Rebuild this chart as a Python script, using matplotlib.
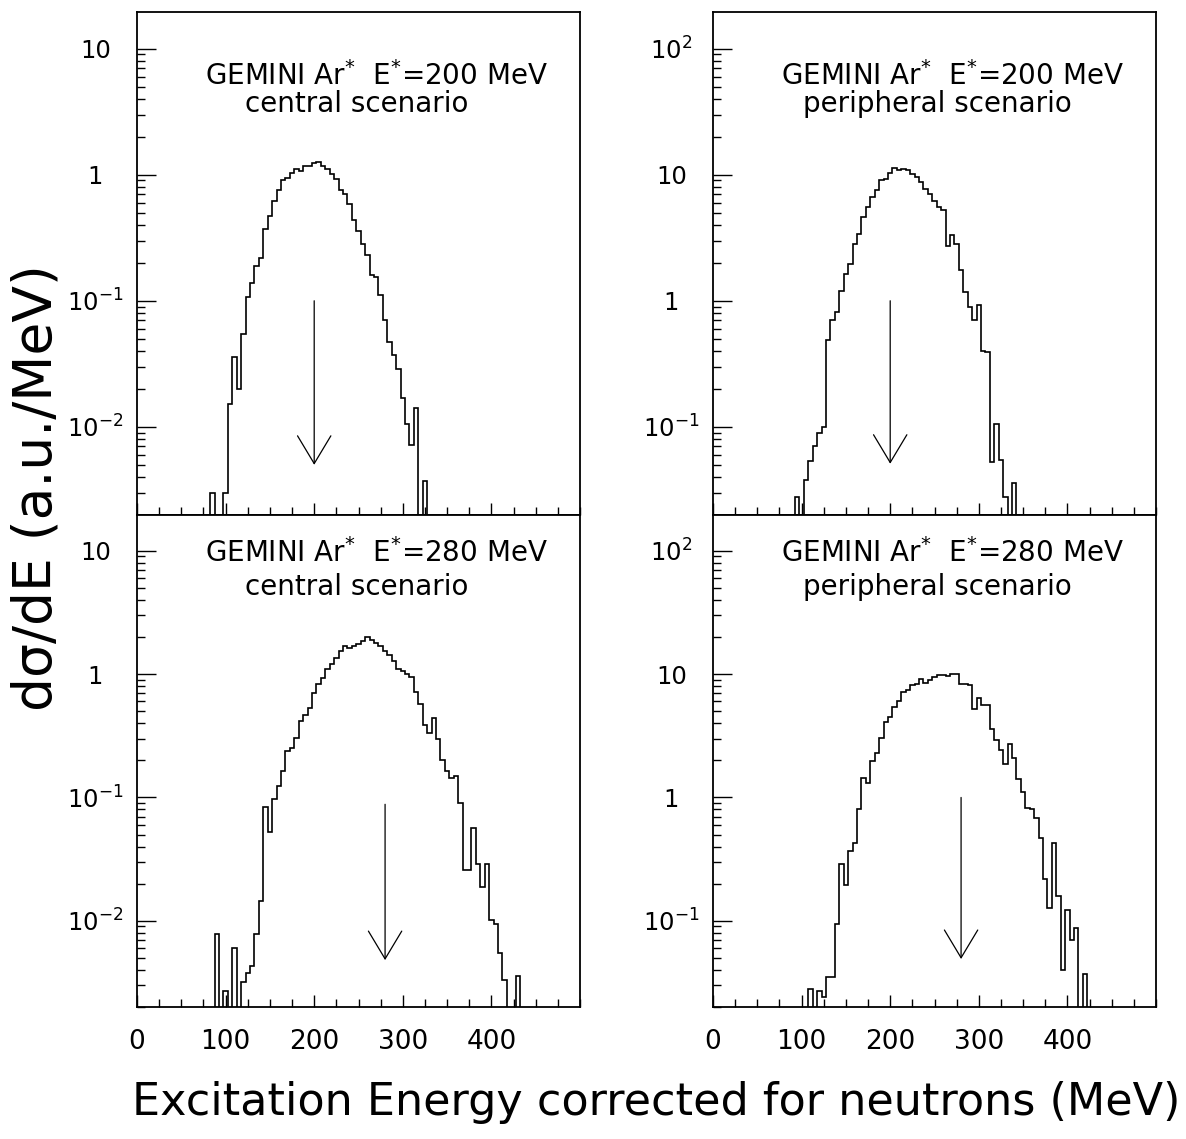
import numpy as np
import matplotlib
matplotlib.use('Agg')
from matplotlib import pyplot as plt
from matplotlib.ticker import MultipleLocator, LogLocator, NullFormatter

# 5 MeV bins, the first value belongs to the bin centred at *_start
tl_start = 85
tl_vals = [0.0030, 0, 0, 0.0030, 0.0153, 0.036, 0.020, 0.055, 0.108, 0.138,
           0.19, 0.22, 0.37, 0.47, 0.62, 0.75, 0.90, 0.94, 1.04, 1.11,
           1.07, 1.18, 1.18, 1.24, 1.25, 1.18, 1.10, 1.02, 0.92, 0.76,
           0.70, 0.58, 0.44, 0.36, 0.28, 0.23, 0.16, 0.155, 0.112, 0.070,
           0.047, 0.037, 0.029, 0.0168, 0.0106, 0.0072, 0.0142, 0, 0.0037]

tr_start = 95
tr_vals = [0.028, 0, 0.038, 0.054, 0.070, 0.089, 0.10, 0.49, 0.71, 0.81,
           1.2, 1.64, 1.97, 2.8, 3.4, 4.6, 5.5, 6.6, 7.5, 9.0,
           9.2, 10.4, 11.3, 10.9, 11.1, 10.9, 10.2, 9.5, 8.8, 7.7,
           7.0, 6.2, 5.5, 5.2, 2.74, 3.3, 2.8, 1.74, 1.17, 0.89,
           0.70, 0.93, 0.40, 0.39, 0.053, 0.106, 0.055, 0.028, 0, 0.036]

bl_start = 90
bl_vals = [0.0078, 0, 0.0027, 0, 0.0060, 0, 0.0032, 0.0038, 0.0043, 0.0078,
           0.0146, 0.084, 0.052, 0.097, 0.123, 0.163, 0.24, 0.25, 0.305, 0.42,
           0.47, 0.53, 0.70, 0.83, 0.93, 1.11, 1.20, 1.34, 1.54, 1.69,
           1.64, 1.69, 1.77, 1.86, 2.0, 1.89, 1.80, 1.69, 1.54, 1.43,
           1.27, 1.11, 1.05, 1.0, 0.95, 0.72, 0.57, 0.39, 0.33, 0.44,
           0.30, 0.20, 0.163, 0.145, 0.15, 0.09, 0.026, 0.026, 0.057, 0.029,
           0.0187, 0.029, 0.0101, 0.0095, 0.0055, 0.0033, 0, 0, 0.0036]

br_start = 110
br_vals = [0.028, 0, 0.027, 0.024, 0.035, 0.035, 0.095, 0.29, 0.195, 0.365,
           0.43, 0.80, 1.45, 1.32, 1.98, 2.3, 3.06, 4.06, 4.47, 5.4,
           6.1, 7.1, 7.4, 8.1, 8.3, 9.2, 8.5, 8.9, 9.5, 9.9,
           9.9, 9.6, 10.1, 10.1, 8.3, 8.3, 8.1, 5.2, 6.4, 5.6,
           5.6, 3.6, 2.9, 2.43, 1.86, 2.7, 2.1, 1.4, 1.10, 0.82,
           0.80, 0.68, 0.47, 0.22, 0.126, 0.43, 0.159, 0.040, 0.122, 0.07,
           0.087, 0, 0.037]

e_star = [200, 200, 280, 280]
arrow_top = [0.1, 1.0, 0.088, 1.0]
arrow_tip = [0.005, 0.051, 0.0048, 0.049]
scenario = ['central scenario', 'peripheral scenario', 'central scenario', 'peripheral scenario']

ylim_c = (2e-3, 19.5)
ylim_p = (2e-2, 195)
yt_c = [1e-2, 1e-1, 1, 10]
yl_c = [r'$10^{-2}$', r'$10^{-1}$', '1', '10']
yt_p = [1e-1, 1, 10, 100]
yl_p = [r'$10^{-1}$', '1', '10', r'$10^{2}$']
x_ticks = [0, 100, 200, 300, 400]


def draw_panel(ax, start, vals, ylim, yt, yl, i, show_x):
    edges = start - 2.5 + 5 * np.arange(len(vals) + 1)
    ax.stairs(vals, edges, baseline=0, color='k', lw=1.2)
    ax.set_yscale('log')
    ax.set_xlim(0, 500)
    ax.set_ylim(*ylim)
    ax.set_yticks(yt, yl)
    ax.yaxis.set_minor_locator(LogLocator(base=10, subs=np.arange(2, 10), numticks=20))
    ax.yaxis.set_minor_formatter(NullFormatter())
    ax.set_xticks(x_ticks)
    ax.xaxis.set_minor_locator(MultipleLocator(25))
    ax.tick_params(which='both', direction='in', top=False, right=False, width=1.0)
    ax.tick_params(axis='y', which='major', length=14, pad=30, labelsize=17.5)
    ax.tick_params(axis='y', which='minor', length=6)
    ax.tick_params(axis='x', which='major', length=8.5, pad=16, labelsize=19)
    ax.tick_params(axis='x', which='minor', length=5.5)
    for lab in ax.get_yticklabels():
        lab.set_horizontalalignment('center')
    if not show_x:
        ax.tick_params(axis='x', labelbottom=False)
    for s in ax.spines.values():
        s.set_linewidth(1.3)

    # arrow marking the nominal excitation energy
    ax.annotate('', xy=(e_star[i], arrow_tip[i]), xytext=(e_star[i], arrow_top[i]),
                arrowprops=dict(arrowstyle='->,head_length=1.0,head_width=0.6',
                                color='k', lw=0.9, shrinkA=0, shrinkB=0,
                                mutation_scale=20))

    y1, y2 = (0.855, 0.802) if not show_x else (0.904, 0.838)
    x1 = 0.540
    x2 = 0.497 if i % 2 == 0 else 0.506
    ax.text(x1, y1, r'GEMINI Ar$^{*}$  E$^{*}$=%d MeV' % e_star[i],
            transform=ax.transAxes, ha='center', va='baseline', fontsize=20)
    ax.text(x2, y2, scenario[i], transform=ax.transAxes,
            ha='center', va='baseline', fontsize=20)


fig = plt.figure(figsize=(11.86, 11.39), dpi=100)
W, H = 1186, 1139
lx, rx, pw = 137 / W, 713 / W, 443 / W
ax_tl = fig.add_axes([lx, 1 - 515 / H, pw, 503 / H])
ax_tr = fig.add_axes([rx, 1 - 515 / H, pw, 503 / H])
ax_bl = fig.add_axes([lx, 1 - 1007 / H, pw, 492 / H])
ax_br = fig.add_axes([rx, 1 - 1007 / H, pw, 492 / H])

draw_panel(ax_tl, tl_start, tl_vals, ylim_c, yt_c, yl_c, 0, False)
draw_panel(ax_tr, tr_start, tr_vals, ylim_p, yt_p, yl_p, 1, False)
draw_panel(ax_bl, bl_start, bl_vals, ylim_c, yt_c, yl_c, 2, True)
draw_panel(ax_br, br_start, br_vals, ylim_p, yt_p, yl_p, 3, True)

fig.text(0.031, 0.572, 'dσ/dE (a.u./MeV)', rotation=90, fontsize=38.5,
         ha='center', va='center')
fig.text(0.553, 0.032, 'Excitation Energy corrected for neutrons (MeV)',
         fontsize=32, ha='center', va='center')

plt.savefig('out.png', dpi=100)
